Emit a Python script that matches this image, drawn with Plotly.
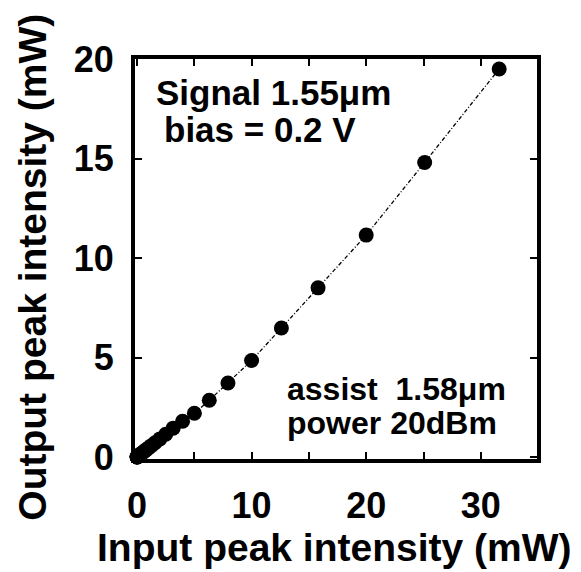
import plotly.graph_objects as go

# Input peak intensity (mW) and measured output peak intensity (mW)
input_mw = [0.01, 0.0126, 0.0158, 0.02, 0.0251, 0.0316, 0.0398, 0.0501, 0.0631, 0.0794,
            0.1, 0.126, 0.158, 0.2, 0.251, 0.316, 0.398, 0.501, 0.631, 0.794,
            1.0, 1.26, 1.58, 2.0, 2.51, 3.16, 3.98, 5.01, 6.31, 7.94,
            10.0, 12.6, 15.8, 20.0, 25.1, 31.6]
output_mw = [0.005, 0.006, 0.007, 0.009, 0.011, 0.014, 0.018, 0.023, 0.028, 0.036,
             0.045, 0.057, 0.071, 0.09, 0.113, 0.142, 0.18, 0.225, 0.285, 0.36,
             0.45, 0.57, 0.72, 0.91, 1.14, 1.45, 1.8, 2.2, 2.85, 3.72,
             4.85, 6.48, 8.5, 11.15, 14.8, 19.5]

x_tickvals = [0, 5, 10, 15, 20, 25, 30, 35]
x_ticktext = ["0", "", "10", "", "20", "", "30", ""]
y_tickvals = [0, 5, 10, 15, 20]
y_ticktext = ["0", "5", "10", "15", "20"]

FONT = "Liberation Sans, Arial, sans-serif"

fig = go.Figure()
fig.add_trace(go.Scatter(
    x=input_mw, y=output_mw, mode="lines+markers",
    line=dict(color="black", width=1.3, dash="4px,2px,1px,2px"),
    marker=dict(color="black", size=15, symbol="circle"),
    showlegend=False, cliponaxis=False,
))

axis_common = dict(
    showgrid=False, zeroline=False, showline=True, linecolor="black", linewidth=4,
    mirror="ticks", ticks="inside", ticklen=7, tickwidth=2, tickcolor="black",
    tickmode="array",
    tickfont=dict(family=FONT, size=36, color="black", weight="bold"),
)

fig.update_xaxes(range=[-0.17, 34.9], tickvals=x_tickvals, ticktext=x_ticktext,
                 ticklabelstandoff=12, **axis_common)
fig.update_yaxes(range=[-0.1, 20.0], tickvals=y_tickvals, ticktext=y_ticktext,
                 ticklabelstandoff=10, **axis_common)


def label(text, x, y, size, **kw):
    return dict(text=text, x=x, y=y, xref="paper", yref="paper",
                xanchor=kw.pop("xanchor", "left"), yanchor="middle", showarrow=False,
                font=dict(family=FONT, size=size, color="black", weight="bold"), **kw)


annotations = [
    label("Input peak intensity (mW)", 0.497, -0.222, 39, xanchor="center"),
    label("Output peak intensity (mW)", -0.257, 0.48, 39, xanchor="center", textangle=-90),
    label("Signal 1.55μm", 0.048, 0.916, 35),
    label("bias = 0.2 V", 0.066, 0.825, 35),
    label("assist  1.58μm", 0.372, 0.176, 32),
    label("power 20dBm", 0.372, 0.09, 32),
]

fig.update_layout(
    width=581, height=572,
    margin=dict(l=135, r=44, t=59, b=113),
    plot_bgcolor="white", paper_bgcolor="white",
    annotations=annotations,
)

fig.write_html("out.html")
